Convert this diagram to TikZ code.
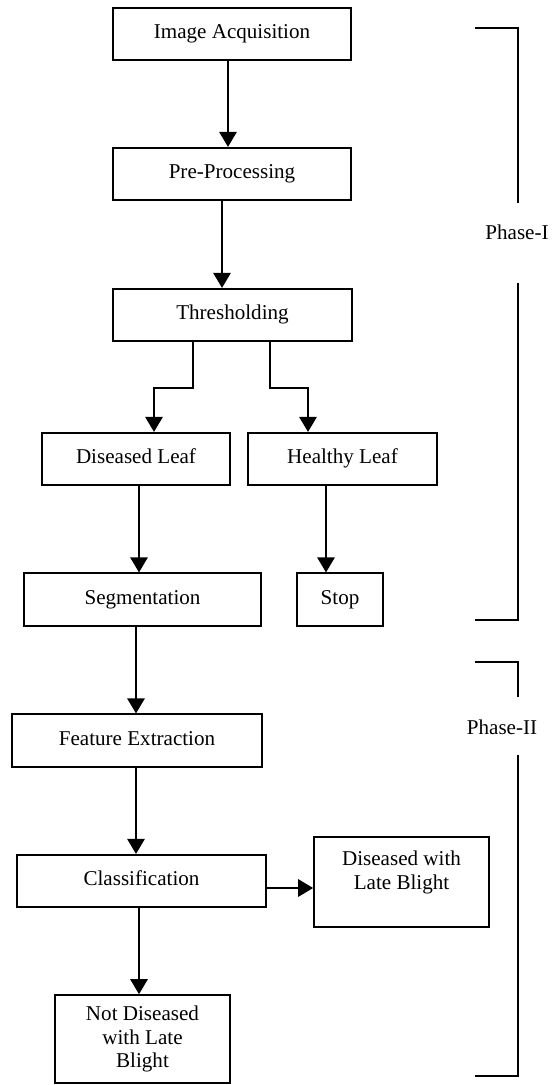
\documentclass[tikz,border=0pt]{standalone}
\usepackage{fontspec}
\setmainfont{Liberation Serif}
\usepackage{tikz}
\usetikzlibrary{arrows.meta}
\usetikzlibrary{calc}

\begin{document}
\begin{tikzpicture}[x=0.02cm, y=-0.02cm,
  font=\fontsize{12}{13.5}\selectfont,
  block/.style={draw, line width=0.9pt, minimum height=1.05cm, inner sep=2pt, align=center},
  oneline/.style={block, text height=1.6ex, text depth=0.45ex},
  flow/.style={line width=1.6pt, -{Triangle[length=0.3cm,width=0.34cm]}},
  phase/.style={line width=0.8pt}]
\useasboundingbox (0,0) rectangle (552,1085);
%
\node[oneline, minimum width=4.76cm] (acq) at (232,34) {Image Acquisition};
\node[oneline, minimum width=4.76cm] (pre) at (232,174) {Pre-Processing};
\node[oneline, minimum width=4.78cm] (thr) at (232.5,315) {Thresholding};
\node[oneline, minimum width=3.76cm] (dis) at (136,459) {Diseased Leaf};
\node[oneline, minimum width=3.78cm] (hea) at (342.5,459) {Healthy Leaf};
\node[oneline, minimum width=4.74cm] (seg) at (142.5,599.5) {Segmentation};
\node[oneline, minimum width=1.72cm] (stop) at (340,599.5) {Stop};
\node[oneline, minimum width=5.0cm] (feat) at (137,740.5) {Feature Extraction};
\node[oneline, minimum width=4.98cm] (cls) at (141.5,881) {Classification};
\node[block, minimum width=3.5cm, minimum height=1.8cm] (dlb) at (401.5,882) {Diseased with\\Late Blight\\~};
\node[block, minimum width=3.5cm, minimum height=1.76cm] (nd) at (142.5,1039) {Not Diseased\\with Late\\Blight};
%
\draw[flow] ([xshift=-0.08cm]acq.south) -- ([xshift=-0.08cm]acq.south |- pre.north);
\draw[flow] ([xshift=-0.2cm]pre.south) -- ([xshift=-0.2cm]pre.south |- thr.north);
\draw[flow] ([xshift=-0.79cm]thr.south) -- ++(0,46) -| ([xshift=0.36cm]dis.north);
\draw[flow] ([xshift=0.75cm]thr.south) -- ++(0,46) -| ([xshift=-0.69cm]hea.north);
\draw[flow] ([xshift=0.06cm]dis.south) -- ([xshift=0.06cm]dis.south |- seg.north);
\draw[flow] ([xshift=-0.33cm]hea.south) -- ([xshift=-0.33cm]hea.south |- stop.north);
\draw[flow] ([xshift=-0.13cm]seg.south) -- ([xshift=-0.13cm]seg.south |- feat.north);
\draw[flow] ([xshift=-0.02cm]feat.south) -- ([xshift=-0.02cm]feat.south |- cls.north);
\draw[flow] ([xshift=-0.05cm]cls.south) -- ([xshift=-0.05cm]cls.south |- nd.north);
\draw[flow] ([yshift=-0.14cm]cls.east) -- ([yshift=-0.14cm]cls.east -| dlb.west);
%
\node (ph1) at (517,232) {Phase-I};
\draw[phase] (475,28) -- (518,28) -- (518,203);
\draw[phase] (518,283) -- (518,620) -- (475,620);
%
\node (ph2) at (502,727) {Phase-II};
\draw[phase] (475,662) -- (518,662) -- (518,697);
\draw[phase] (518,755) -- (518,1076) -- (475,1076);
%
\end{tikzpicture}
\end{document}
